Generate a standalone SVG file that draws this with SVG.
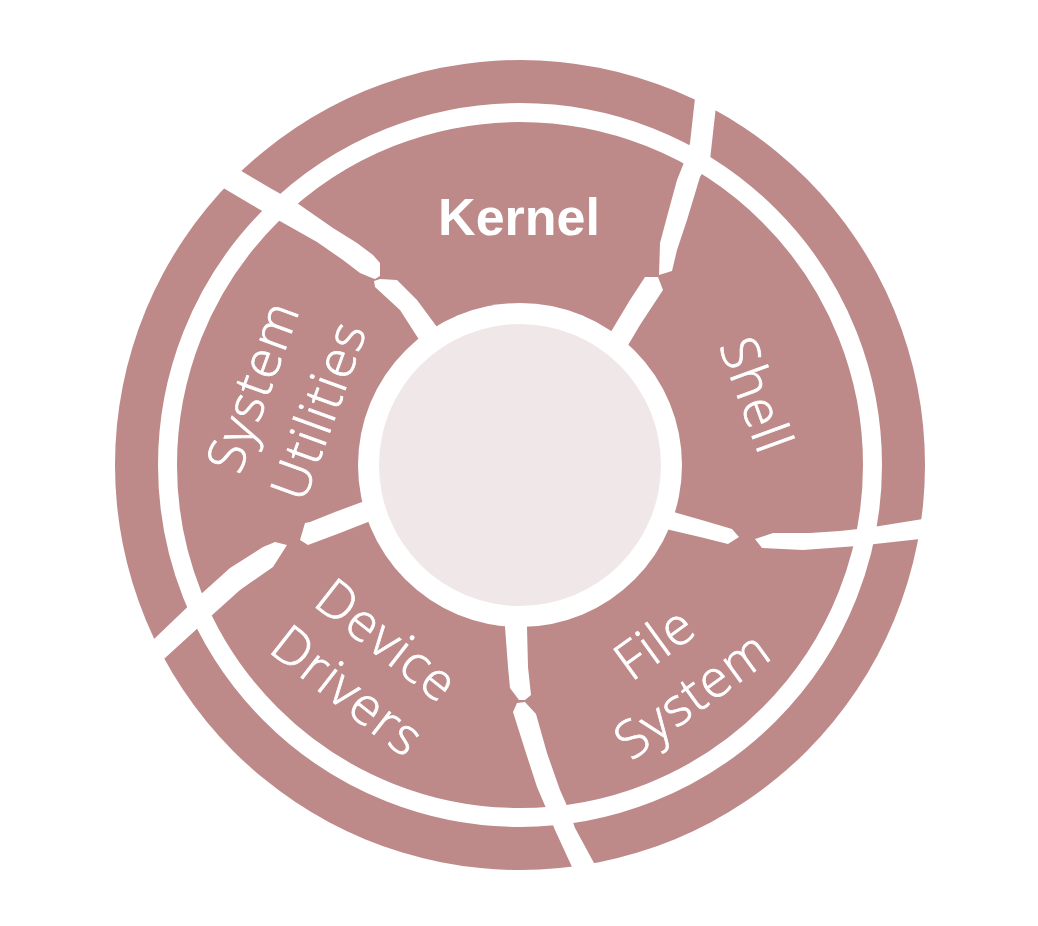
<svg xmlns="http://www.w3.org/2000/svg" width="1038" height="926" viewBox="0 0 1038 926">
<style>
.seg{fill:#BD8989}
.div{fill:#FFFFFF}
.lbl{fill:#FFFFFF;stroke:#FFFFFF;stroke-width:0.8px;font-family:"Open Sans","Liberation Sans",sans-serif;font-weight:300;font-size:52px;letter-spacing:1.5px;text-anchor:middle}
.kern{fill:#FFFFFF;font-family:"Liberation Sans",Arial,sans-serif;font-weight:700;font-size:52px;text-anchor:middle}
</style>
<rect width="1038" height="926" fill="#FFFFFF"/>
<g id="wheel">
<circle class="seg" cx="520" cy="465" r="405"/>
<circle cx="520" cy="465" r="352.5" fill="none" stroke="#FFFFFF" stroke-width="19"/>
</g>
<g id="dividers">
<polygon class="div" points="230,164 243,172 270,188 297,203 333,228 357,243 373,255 380,263 380,276 375,279 372,278 360,273 343,260 317,242 278,220 252,205 225,189 212,181"/>
<polygon class="div" points="374,281 380,279 397,280 417,300 437,327 447,345 425,355 418,338 400,310 375,287"/>
<polygon class="div" points="697,85 695,98 690,143 683,165 677,180 668,213 660,243 659,275 672,271 677,250 687,220 700,177 710,160 715,115 718,90"/>
<polygon class="div" points="645,277 658,277 663,290 640,325 627,347 615,360 600,350 612,330 630,300"/>
<polygon class="div" points="655,506 677,513 705,521 732,529 739,537 728,544 700,537 670,530 652,524"/>
<polygon class="div" points="755,539 773,533 810,533 840,531 867,528 923,519 935,517 935,537 920,539 857,546 803,550 762,548"/>
<polygon class="div" points="505,610 505,627 508,667 510,688 519,700 525,700 531,695 528,667 527,627 527,610"/>
<polygon class="div" points="513,712 517,703 525,702 536,714 547,753 560,790 568,808 575,828 594,863 602,880 580,882 572,867 555,830 546,808 537,787 525,750"/>
<polygon class="div" points="378,497 362,502 335,512 310,522 305,523 300,540 308,545 340,533 368,522 380,518"/>
<polygon class="div" points="138,655 153,640 200,595 230,568 263,547 275,542 287,545 273,567 240,590 210,617 165,658 150,672"/>
</g>
<g id="core">
<circle cx="520" cy="465" r="162" fill="#FFFFFF"/>
<circle cx="520" cy="465" r="141" fill="#F0E7E8"/>
</g>
<g id="kernel">
<text class="kern" x="519" y="235">Kernel</text>
</g>
<g id="shell" transform="translate(757,395) rotate(70)">
<text class="lbl" x="0" y="19">Shell</text>
</g>
<g id="file-system" transform="translate(673,668) rotate(-36)">
<text class="lbl" x="0" y="-13">File</text>
<text class="lbl" x="0" y="51">System</text>
</g>
<g id="device-drivers" transform="translate(368,665) rotate(38)">
<text class="lbl" x="0" y="-13">Device</text>
<text class="lbl" x="0" y="51">Drivers</text>
</g>
<g id="system-utilities" transform="translate(285,398) rotate(-70)">
<text class="lbl" x="0" y="-16">System</text>
<text class="lbl" x="0" y="54">Utilities</text>
</g>
</svg>
